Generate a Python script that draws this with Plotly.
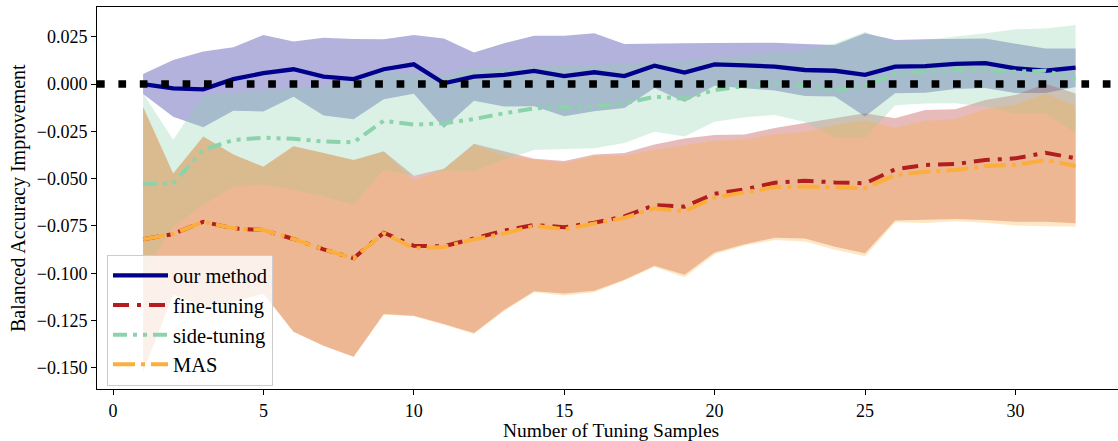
import numpy as np
import plotly.graph_objects as go

# ---- data ----
samples = list(range(1, 33))

ours_mean = [0.0000, -0.0023, -0.0028, 0.0026, 0.0057, 0.0078, 0.0039, 0.0026, 0.0078, 0.0104,
             0.0004, 0.0039, 0.0048, 0.0069, 0.0042, 0.0062, 0.0042, 0.0097, 0.0060, 0.0104,
             0.0098, 0.0092, 0.0074, 0.0070, 0.0048, 0.0092, 0.0095, 0.0106, 0.0110, 0.0083,
             0.0070, 0.0086]
ours_std = [0.0053, 0.0150, 0.0200, 0.0168, 0.0202, 0.0146, 0.0206, 0.0212, 0.0158, 0.0155,
            0.0237, 0.0127, 0.0167, 0.0186, 0.0213, 0.0206, 0.0169, 0.0118, 0.0155, 0.0113,
            0.0121, 0.0126, 0.0137, 0.0136, 0.0220, 0.0141, 0.0141, 0.0132, 0.0131, 0.0130,
            0.0118, 0.0102]

fine_mean = [-0.0821, -0.0793, -0.0728, -0.0763, -0.0772, -0.0819, -0.0874, -0.0921, -0.0786, -0.0855,
             -0.0858, -0.0816, -0.0775, -0.0745, -0.0757, -0.0733, -0.0700, -0.0640, -0.0648, -0.0580,
             -0.0557, -0.0522, -0.0511, -0.0520, -0.0525, -0.0451, -0.0428, -0.0423, -0.0402, -0.0393,
             -0.0363, -0.0393]
fine_std = [0.0700, 0.0320, 0.0450, 0.0390, 0.0335, 0.0490, 0.0510, 0.0520, 0.0430, 0.0370,
            0.0410, 0.0500, 0.0420, 0.0350, 0.0350, 0.0360, 0.0335, 0.0320, 0.0360, 0.0310,
            0.0290, 0.0290, 0.0305, 0.0340, 0.0370, 0.0270, 0.0290, 0.0290, 0.0317, 0.0335,
            0.0365, 0.0343]

side_mean = [-0.0530, -0.0525, -0.0349, -0.0296, -0.0284, -0.0290, -0.0304, -0.0308, -0.0194, -0.0215,
             -0.0208, -0.0185, -0.0155, -0.0129, -0.0123, -0.0120, -0.0102, -0.0067, -0.0078, -0.0032,
             -0.0011, 0.0004, -0.0011, -0.0035, -0.0005, 0.0053, 0.0065, 0.0074, 0.0074, 0.0065,
             0.0070, 0.0026]
side_std = [0.0480, 0.0230, 0.0290, 0.0247, 0.0250, 0.0270, 0.0290, 0.0330, 0.0260, 0.0270,
            0.0250, 0.0275, 0.0245, 0.0220, 0.0220, 0.0220, 0.0210, 0.0185, 0.0200, 0.0167,
            0.0165, 0.0168, 0.0190, 0.0250, 0.0280, 0.0165, 0.0168, 0.0176, 0.0194, 0.0224,
            0.0224, 0.0286]

mas_mean = [-0.0821, -0.0793, -0.0728, -0.0763, -0.0772, -0.0819, -0.0874, -0.0921, -0.0789, -0.0868,
            -0.0862, -0.0821, -0.0790, -0.0750, -0.0768, -0.0740, -0.0708, -0.0657, -0.0672, -0.0600,
            -0.0574, -0.0545, -0.0542, -0.0546, -0.0551, -0.0481, -0.0464, -0.0455, -0.0433, -0.0428,
            -0.0402, -0.0433]
mas_std = [0.0700, 0.0320, 0.0450, 0.0390, 0.0335, 0.0490, 0.0510, 0.0520, 0.0430, 0.0360,
           0.0410, 0.0500, 0.0410, 0.0350, 0.0350, 0.0360, 0.0330, 0.0310, 0.0350, 0.0300,
           0.0280, 0.0280, 0.0290, 0.0330, 0.0360, 0.0250, 0.0270, 0.0270, 0.0300, 0.0320,
           0.0350, 0.0320]

x_ticks = [0, 5, 10, 15, 20, 25, 30]
y_ticks = [-0.150, -0.125, -0.100, -0.075, -0.050, -0.025, 0.000, 0.025]
y_ticktext = ["\u22120.150", "\u22120.125", "\u22120.100", "\u22120.075", "\u22120.050",
              "\u22120.025", "0.000", "0.025"]

# ---- styling ----
series = [
    ("our method", ours_mean, ours_std, (0, 0, 139), "solid"),
    ("fine-tuning", fine_mean, fine_std, (178, 30, 30), "16px,8px,4px,8px"),
    ("side-tuning", side_mean, side_std, (140, 210, 170), "14px,6px,4px,6px,4px,6px"),
    ("MAS", mas_mean, mas_std, (251, 174, 60), "22px,6px,4px,6px"),
]

FONT = "'Liberation Serif', 'DejaVu Serif', serif"

fig = go.Figure()

# bands first
for name, mean, std, c, dash in series:
    m = np.array(mean)
    s = np.array(std)
    fig.add_trace(go.Scatter(x=samples, y=m + s, mode="lines", line=dict(width=0),
                             showlegend=False, hoverinfo="skip"))
    fig.add_trace(go.Scatter(x=samples, y=m - s, mode="lines", line=dict(width=0),
                             fill="tonexty", fillcolor=f"rgba({c[0]},{c[1]},{c[2]},0.3)",
                             showlegend=False, hoverinfo="skip"))

# lines
for i, (name, mean, std, c, dash) in enumerate(series):
    fig.add_trace(go.Scatter(x=samples, y=mean, mode="lines", name=name,
                             legendgroup=f"g{i}",
                             line=dict(color=f"rgb({c[0]},{c[1]},{c[2]})",
                                       width=4.3 if i == 0 else 4, dash=dash)))

fig.add_shape(type="line", xref="paper", x0=0, x1=1, yref="y", y0=0, y1=0,
              line=dict(color="black", width=7.5, dash="7.7px,13.7px"), layer="above")

fig.update_layout(
    width=1118, height=441,
    margin=dict(l=97, r=0, t=7, b=52),
    paper_bgcolor="white", plot_bgcolor="white",
    font=dict(family=FONT, color="black", size=18),
    showlegend=True,
    legend=dict(x=0.0098, y=0.352, xanchor="left", yanchor="top",
                bgcolor="rgba(255,255,255,0.8)", bordercolor="#cccccc", borderwidth=1,
                font=dict(family=FONT, size=20.5, color="black"),
                tracegroupgap=4, traceorder="normal", itemwidth=55),
    xaxis=dict(range=[-0.532, 33.41], tickvals=x_ticks, ticks="outside", ticklen=5,
               tickcolor="black", tickwidth=1, showline=True, linecolor="black", linewidth=1,
               mirror=True, showgrid=False, zeroline=False,
               tickfont=dict(family=FONT, size=18, color="black")),
    yaxis=dict(range=[-0.1612, 0.0407], tickvals=y_ticks, ticktext=y_ticktext,
               ticks="outside", ticklen=5, tickcolor="black", tickwidth=1,
               showline=True, linecolor="black", linewidth=1, showgrid=False, zeroline=False,
               tickfont=dict(family=FONT, size=18, color="black")),
    annotations=[
        dict(text="Number of Tuning Samples", xref="paper", yref="paper",
             x=0.503, y=-0.109, xanchor="center", yanchor="middle", showarrow=False,
             font=dict(family=FONT, size=19.5, color="black")),
        dict(text="Balanced Accuracy Improvement", xref="paper", yref="paper",
             x=-0.0774, y=0.5, xanchor="center", yanchor="middle", showarrow=False,
             textangle=-90, font=dict(family=FONT, size=20, color="black")),
    ],
)

fig.write_html("out.html")
